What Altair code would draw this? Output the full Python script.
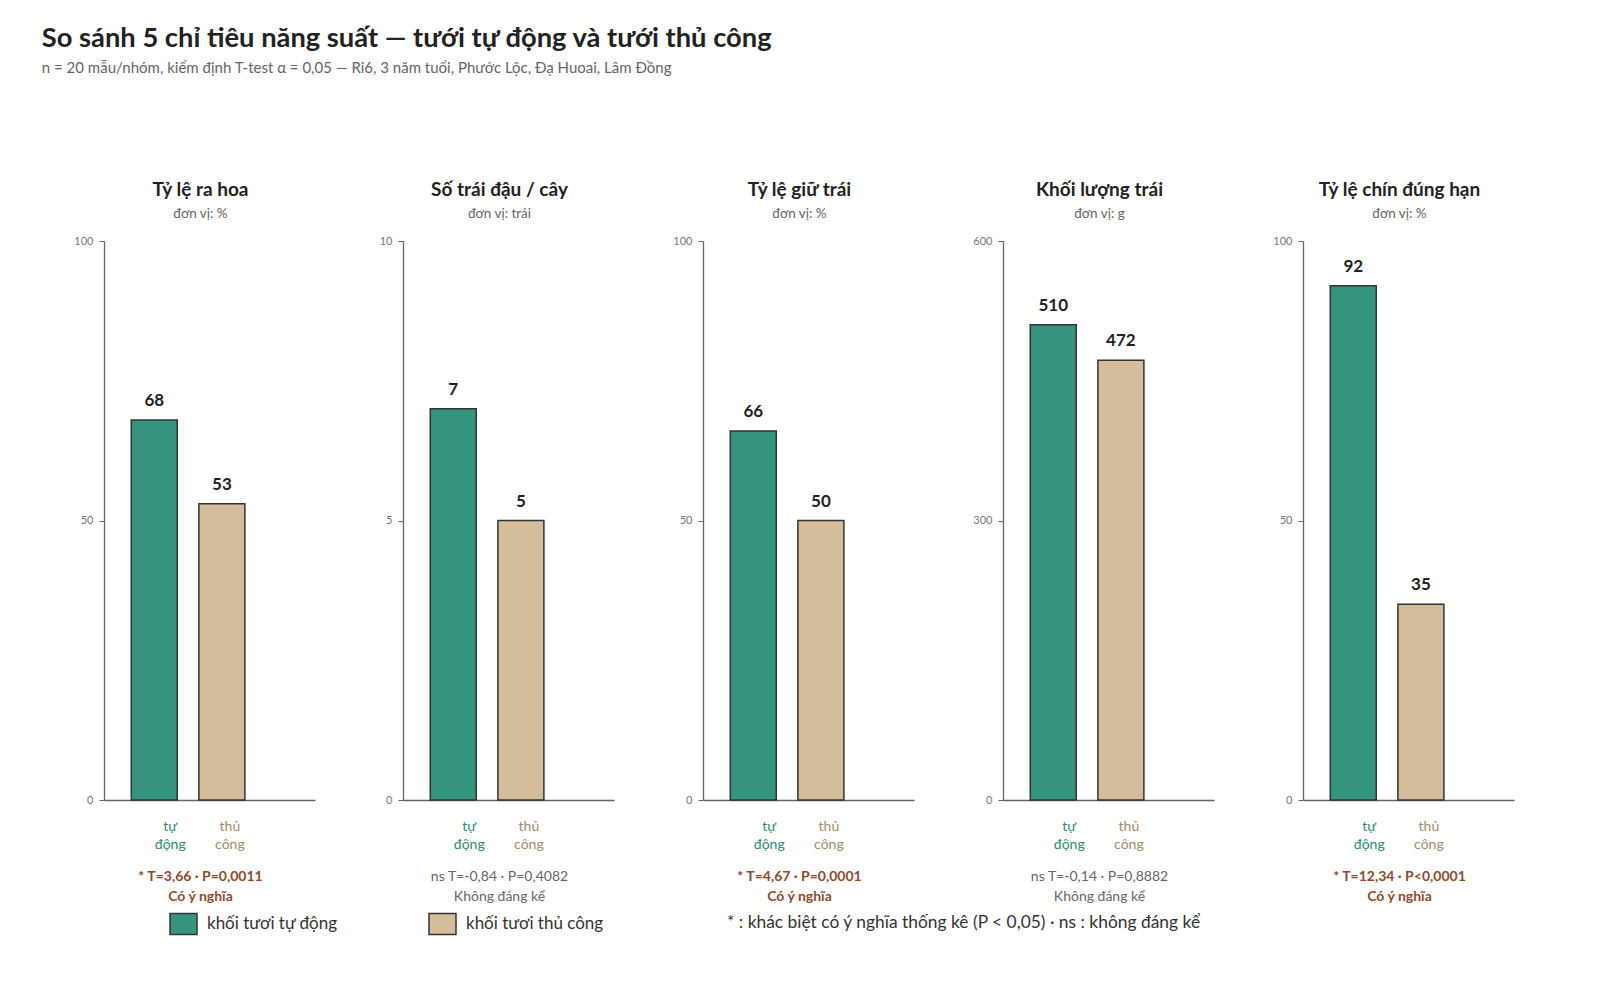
import altair as alt
import pandas as pd

# ---- data ----
metrics = ["Tỷ lệ ra hoa", "Số trái đậu / cây", "Tỷ lệ giữ trái", "Khối lượng trái", "Tỷ lệ chín đúng hạn"]
units = ["%", "trái", "%", "g", "%"]
auto_vals = [68, 7, 66, 510, 92]
manual_vals = [53, 5, 50, 472, 35]
y_max = [100, 10, 100, 600, 100]
t_vals = ["3,66", "-0,84", "4,67", "-0,14", "12,34"]
p_texts = ["P=0,0011", "P=0,4082", "P=0,0001", "P=0,8882", "P<0,0001"]
significant = [True, False, True, False, True]

groups = ["tự động", "thủ công"]
legend_labels = ["khối tươi tự động", "khối tươi thủ công"]
colors = ["#35947e", "#d4bd9b"]

title_text = "So sánh 5 chỉ tiêu năng suất — tưới tự động và tưới thủ công"
subtitle_text = "n = 20 mẫu/nhóm, kiểm định T-test α = 0,05 — Ri6, 3 năm tuổi, Phước Lộc, Đạ Huoai, Lâm Đồng"
note_text = "* : khác biệt có ý nghĩa thống kê (P < 0,05) · ns : không đáng kể"

FONT = "Lato"
SIG_COLOR = "#8c4a30"
NS_COLOR = "#666666"

W, H = 211, 559

rect_path = "M-1,-0.78H1V0.78H-1Z"

color_enc = alt.Color(
    "legend:N",
    scale=alt.Scale(domain=legend_labels, range=colors),
    legend=alt.Legend(
        orient="none", legendX=65, legendY=668, direction="horizontal",
        title=note_text, titleOrient="right", titleFontSize=17.4, titleFontWeight="normal",
        titleColor="#333333", titleFont=FONT, titlePadding=124, titleBaseline="middle",
        titleAnchor="middle", titleLimit=800,
        symbolType=rect_path, symbolSize=729, symbolStrokeColor="#333333",
        symbolStrokeWidth=1.5, symbolOpacity=1,
        labelFontSize=17, labelFont=FONT, labelColor="#333333", labelOffset=9,
        columnPadding=88, labelLimit=300,
    ),
)

panels = []
for i in range(5):
    df = pd.DataFrame({
        "group": groups,
        "legend": legend_labels,
        "value": [auto_vals[i], manual_vals[i]],
    })
    if significant[i]:
        stat = [f"* T={t_vals[i]} · {p_texts[i]}", "Có ý nghĩa"]
        tcolor, tweight = SIG_COLOR, "bold"
    else:
        stat = [f"ns T={t_vals[i]} · {p_texts[i]}", "Không đáng kể"]
        tcolor, tweight = NS_COLOR, "normal"

    x_enc = alt.X(
        "group:N",
        sort=groups,
        scale=alt.Scale(domain=groups, paddingInner=0.32, paddingOuter=0.72, align=0.28),
        axis=alt.Axis(
            title=stat, titleColor=tcolor, titleFontWeight=tweight, titleFontSize=14,
            titleFont=FONT, titleLineHeight=20, titlePadding=18, titleX=96,
            labelAngle=0, labelExpr="split(datum.label, ' ')",
            labelColor=alt.expr("datum.value == 'tự động' ? '#2f8a73' : '#a38b6c'"),
            labelFontSize=14, labelFont=FONT, labelLineHeight=18, labelPadding=19,
            labelOffset=alt.expr("datum.value == 'tự động' ? 16 : 8"),
            ticks=False, domainColor="#666666", domainWidth=1.3,
        ),
    )
    y_enc = alt.Y(
        "value:Q",
        scale=alt.Scale(domain=[0, y_max[i]], nice=False),
        axis=alt.Axis(
            values=[0, y_max[i] / 2, y_max[i]], title=None, grid=False,
            labelFontSize=11, labelColor="#777777", labelFont=FONT,
            tickColor="#666666", tickSize=5, labelPadding=6,
            domainColor="#666666", domainWidth=1.3,
            minExtent=30, maxExtent=30,
        ),
    )
    base = alt.Chart(df)
    bars = base.mark_bar(stroke="#333333", strokeWidth=1.5).encode(
        x=x_enc, y=y_enc, fill=color_enc
    )
    labels = base.mark_text(
        dy=-10, baseline="bottom", fontWeight="bold", fontSize=17, font=FONT, color="#222222"
    ).encode(x=alt.X("group:N", sort=groups), y="value:Q", text="value:Q")
    panel = alt.layer(bars, labels).properties(
        width=W, height=H,
        title=alt.TitleParams(
            text=metrics[i], subtitle=f"đơn vị: {units[i]}",
            fontSize=19, fontWeight="bold", color="#222222", font=FONT,
            subtitleFontSize=13.5, subtitleColor="#666666", subtitleFont=FONT,
            subtitlePadding=7, anchor="middle", offset=15, dx=-9,
        ),
    )
    panels.append(panel)

chart = alt.hconcat(*panels, spacing=58).resolve_scale(
    y="independent", x="independent", fill="shared"
).properties(
    title=alt.TitleParams(
        text=title_text, subtitle=subtitle_text, anchor="start",
        fontSize=27.3, fontWeight="bold", color="#222222", font=FONT,
        subtitleFontSize=15, subtitleColor="#666666", subtitleFont=FONT,
        subtitlePadding=8, offset=105, dx=-32,
    ),
    padding={"left": 33, "top": 17, "right": 10, "bottom": 10},
).configure(font=FONT).configure_view(stroke=None)

chart.save("out.html", embed_options={"renderer": "svg", "actions": False})
